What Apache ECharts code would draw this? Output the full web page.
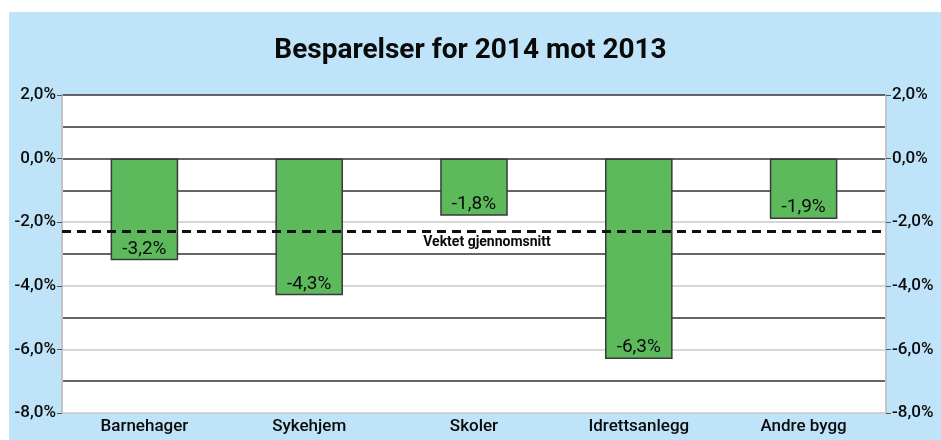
<!DOCTYPE html>
<html>
<head>
<meta charset="utf-8">
<script src="https://cdn.jsdelivr.net/npm/echarts@6/dist/echarts.min.js"></script>
<style>
  html, body { margin: 0; padding: 0; background: #fff; }
  #chart { width: 941px; height: 440px; }
</style>
</head>
<body>
<div id="chart"></div>
<script>
const categories = ["Barnehager", "Sykehjem", "Skoler", "Idrettsanlegg", "Andre bygg"]
const savings = [-3.2, -4.3, -1.8, -6.3, -1.9]
const weightedAverage = -2.3
const averageLabel = "Vektet gjennomsnitt"
const titleText = "Besparelser for 2014 mot 2013"

const fontFamily = "Roboto, 'Noto Sans', sans-serif"
const pct = v => v.toFixed(1).replace(".", ",") + "%"

const chart = echarts.init(document.getElementById("chart"))

const yAxisBase = {
  type: "value",
  min: -8,
  max: 2,
  interval: 2,
  axisLine: { show: true, lineStyle: { color: "#c4c4c4", width: 2 } },
  axisTick: { show: true, length: 5, lineStyle: { color: "#555" } },
  axisLabel: {
    color: "#0a0a0a",
    fontSize: 17,
    fontWeight: 500,
    fontFamily,
    margin: 6,
    formatter: pct
  },
  splitLine: {
    show: true,
    lineStyle: {
      color: ["#c8c8c8", "#c8c8c8", "#c8c8c8", "#c8c8c8", "#333", "#333"],
      width: 1.5
    }
  },
  minorTick: { show: false, splitNumber: 2 },
  minorSplitLine: { show: true, lineStyle: { color: "#333", width: 1.5 } }
}

chart.setOption({
  backgroundColor: "#fff",
  animation: false,
  graphic: [
    {
      type: "rect",
      left: 9,
      top: 12,
      shape: { width: 932, height: 428 },
      style: { fill: "#bfe3f9" },
      z: -10
    }
  ],
  title: {
    text: titleText,
    left: "center",
    top: 32,
    textStyle: {
      fontFamily,
      fontSize: 28,
      fontWeight: "bold",
      color: "#0a0a0a"
    }
  },
  grid: {
    left: 62,
    right: 55,
    top: 95,
    bottom: 27,
    show: true,
    backgroundColor: "#fff",
    borderWidth: 0
  },
  xAxis: {
    type: "category",
    data: categories,
    position: "bottom",
    axisLine: { show: false },
    axisTick: { show: false },
    axisLabel: {
      color: "#0a0a0a",
      fontSize: 17,
      fontWeight: 500,
      fontFamily,
      margin: 5
    }
  },
  yAxis: [
    Object.assign({}, yAxisBase, { position: "left" }),
    Object.assign({}, yAxisBase, {
      position: "right",
      splitLine: { show: false },
      minorSplitLine: { show: false }
    })
  ],
  series: [
    {
      type: "bar",
      data: savings,
      barWidth: "41%",
      itemStyle: {
        color: "#5cba5c",
        borderColor: "#3a3a3a",
        borderWidth: 1.5
      },
      label: {
        show: true,
        position: "insideBottom",
        distance: 2,
        color: "#0a0a0a",
        fontSize: 19,
        fontFamily,
        formatter: p => pct(p.value)
      },
      markLine: {
        symbol: "none",
        silent: true,
        z: 10,
        lineStyle: {
          color: "#111",
          type: [9, 6],
          width: 3
        },
        label: {
          show: true,
          position: "insideMiddleBottom",
          distance: 0,
          offset: [13, 4],
          color: "#0a0a0a",
          fontSize: 14,
          fontWeight: "bold",
          fontFamily,
          formatter: averageLabel
        },
        data: [{ yAxis: weightedAverage }]
      }
    }
  ]
})
</script>
</body>
</html>
